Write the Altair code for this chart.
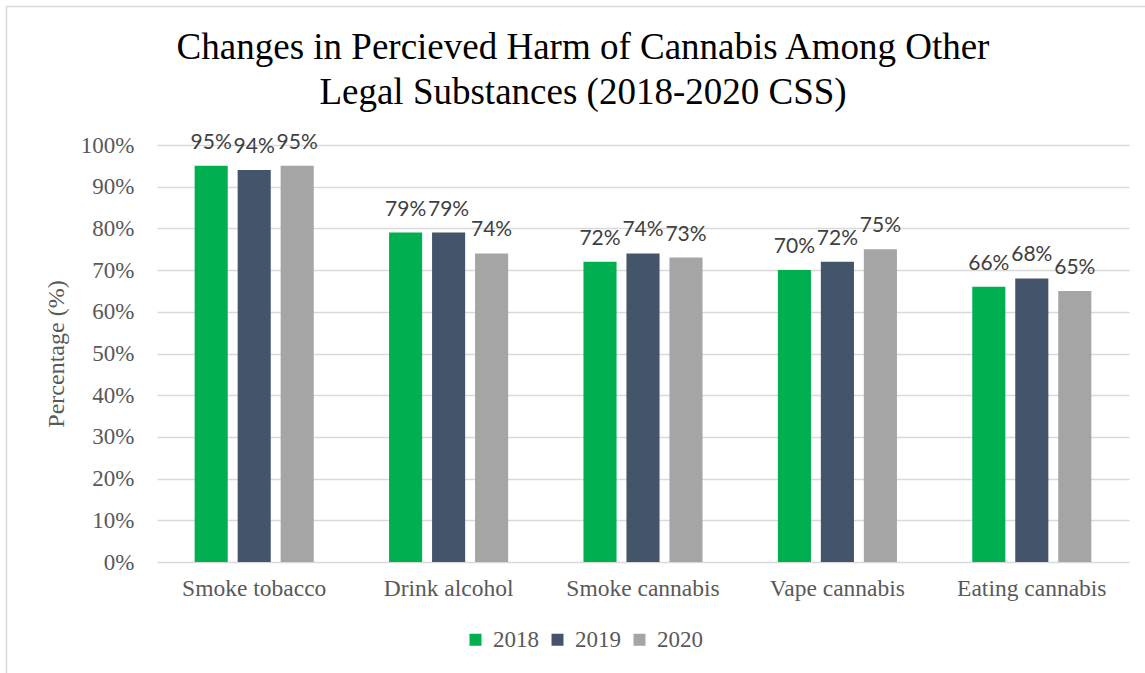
import altair as alt
import pandas as pd

categories = ["Smoke tobacco", "Drink alcohol", "Smoke cannabis", "Vape cannabis", "Eating cannabis"]
years = ["2018", "2019", "2020"]
values_2018 = [95, 79, 72, 70, 66]
values_2019 = [94, 79, 74, 72, 68]
values_2020 = [95, 74, 73, 75, 65]
colors = ["#00B050", "#44546A", "#A5A5A5"]
y_ticks = [0, 10, 20, 30, 40, 50, 60, 70, 80, 90, 100]

rows = []
for yr, vals in zip(years, [values_2018, values_2019, values_2020]):
    for c, v in zip(categories, vals):
        rows.append({"category": c, "year": yr, "value": v, "label": f"{v}%"})
df = pd.DataFrame(rows)

serif = "Liberation Serif"
axis_gray = "#595959"

x_enc = alt.X("category:N", sort=categories,
              scale=alt.Scale(paddingInner=0, paddingOuter=0),
              axis=alt.Axis(title=None, labelFont=serif, labelFontSize=23.5,
                            labelColor=axis_gray, labelPadding=14, ticks=False,
                            domain=False, labelAngle=0))
xoff_enc = alt.XOffset("year:N", sort=years,
                       scale=alt.Scale(paddingInner=0.23, paddingOuter=0.876))

base = alt.Chart(df)

bars = base.mark_bar().encode(
    x=x_enc,
    xOffset=xoff_enc,
    y=alt.Y("value:Q", scale=alt.Scale(domain=[0, 100], nice=False),
            axis=alt.Axis(title="Percentage (%)", values=y_ticks,
                          labelExpr="datum.value + '%'",
                          labelFont=serif, labelFontSize=23, labelColor=axis_gray,
                          labelPadding=23, ticks=False, domain=False,
                          titleFont=serif, titleFontSize=24, titleFontWeight="normal",
                          titleColor=axis_gray, titlePadding=12,
                          grid=True, gridColor="#D9D9D9", gridWidth=1.4)),
    color=alt.Color("year:N", sort=years,
                    scale=alt.Scale(domain=years, range=colors),
                    legend=alt.Legend(title=None, orient="none", direction="horizontal",
                                      legendX=307, legendY=483,
                                      symbolType="square", symbolSize=144,
                                      symbolStrokeWidth=0,
                                      labelFont=serif, labelFontSize=23,
                                      labelColor=axis_gray, labelOffset=6,
                                      columnPadding=7, padding=0)),
)

texts = base.mark_text(font="Lato", fontSize=21, color="#404040",
                       baseline="alphabetic", dy=-17).encode(
    x=alt.X("category:N", sort=categories),
    xOffset=alt.XOffset("year:N", sort=years),
    y=alt.Y("value:Q"),
    text="label:N",
)

frame_top = alt.Chart(alt.Data(values=[{}])).mark_rule(color="#D9D9D9", strokeWidth=1.5).encode(
    x=alt.value(-151), x2=alt.value(1000), y=alt.value(-138.5))
frame_left = alt.Chart(alt.Data(values=[{}])).mark_rule(color="#D9D9D9", strokeWidth=1.5).encode(
    x=alt.value(-150.5), y=alt.value(-139), y2=alt.value(540))

chart = alt.layer(bars, texts, frame_top, frame_left).properties(
    width=972, height=417,
    title=alt.TitleParams(
        ["Changes in Percieved Harm of Cannabis Among Other", "Legal Substances (2018-2020 CSS)"],
        font=serif, fontSize=37, fontWeight="normal", color="black",
        lineHeight=45, anchor="middle", dx=-60, offset=-107),
    autosize=alt.AutoSizeParams(type="none"),
    padding={"left": 157, "top": 145, "right": 16, "bottom": 111},
).configure(background="white", font=serif).configure_view(stroke=None).configure_legend(
    labelFont=serif, labelFontSize=23, labelColor=axis_gray)

chart.save("out.html", embed_options={"renderer": "svg", "actions": False})
